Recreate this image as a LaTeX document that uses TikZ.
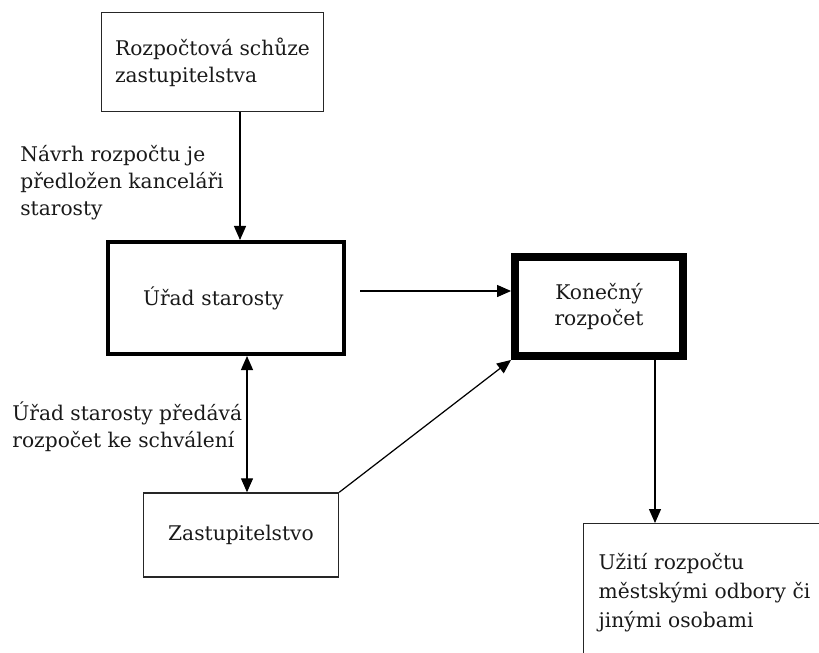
\documentclass[tikz,border=0pt]{standalone}
\usepackage{fontspec}
\setmainfont{DejaVu Serif}
\usepackage{tikz}
\usetikzlibrary{arrows.meta}

\begin{document}
\begin{tikzpicture}[x=0.02cm, y=-0.02cm, >={Triangle[length=0.28cm, width=0.24cm]},
	txt/.style={font=\fontsize{11.5pt}{15.3pt}\selectfont, text=black!90},
	box/.style={txt, draw=black!85, line width=0.8pt, align=center},
	arr/.style={line width=0.7pt}]
	\useasboundingbox (0,0) rectangle (819,653);
	\clip (0,0) rectangle (819,653);

	\node[box, align=left, minimum width=4.44cm, minimum height=1.98cm] (schuze) at (212.5, 62) {Rozpočtová schůze\\zastupitelstva};
	\node[box, line width=2.3pt, draw=black, align=left, text width=3.32cm, minimum width=4.72cm, minimum height=2.24cm] (urad) at (226, 298) {Úřad starosty};
	\node[box, line width=4.5pt, draw=black, minimum width=3.36cm, minimum height=1.98cm] (konec) at (599, 306.5) {Konečný\\rozpočet};
	\node[box, minimum width=3.9cm, minimum height=1.68cm] (zastup) at (241, 535) {Zastupitelstvo};
	\node[box, anchor=north west, align=left, text width=5.2cm, inner xsep=0.3cm, inner ysep=0.6cm, font=\fontsize{11.5pt}{16.5pt}\selectfont] (uziti) at (583, 523) {Užití rozpočtu\\městskými odbory či\\jinými osobami};

	\node[txt, anchor=west, align=left, inner sep=0pt] (navrh) at (20, 183) {Návrh rozpočtu je\\předložen kanceláři\\starosty};
	\node[txt, anchor=west, align=left, inner sep=0pt] (predava) at (12, 427) {Úřad starosty předává\\rozpočet ke schválení};

	\coordinate (osa1) at (240, 0);
	\coordinate (osa2) at (247, 0);
	\coordinate (osa3) at (655, 0);
	\coordinate (start) at (360, 291);

	\draw[arr, ->] (schuze.south -| osa1) -- (urad.north -| osa1);
	\draw[arr, ->] (start) -- (start -| konec.west);
	\draw[arr, <->] (urad.south -| osa2) -- (zastup.north -| osa2);
	\draw[arr, ->] (zastup.north east) -- (konec.south west);
	\draw[arr, ->] (konec.south -| osa3) -- (uziti.north -| osa3);
\end{tikzpicture}
\end{document}
